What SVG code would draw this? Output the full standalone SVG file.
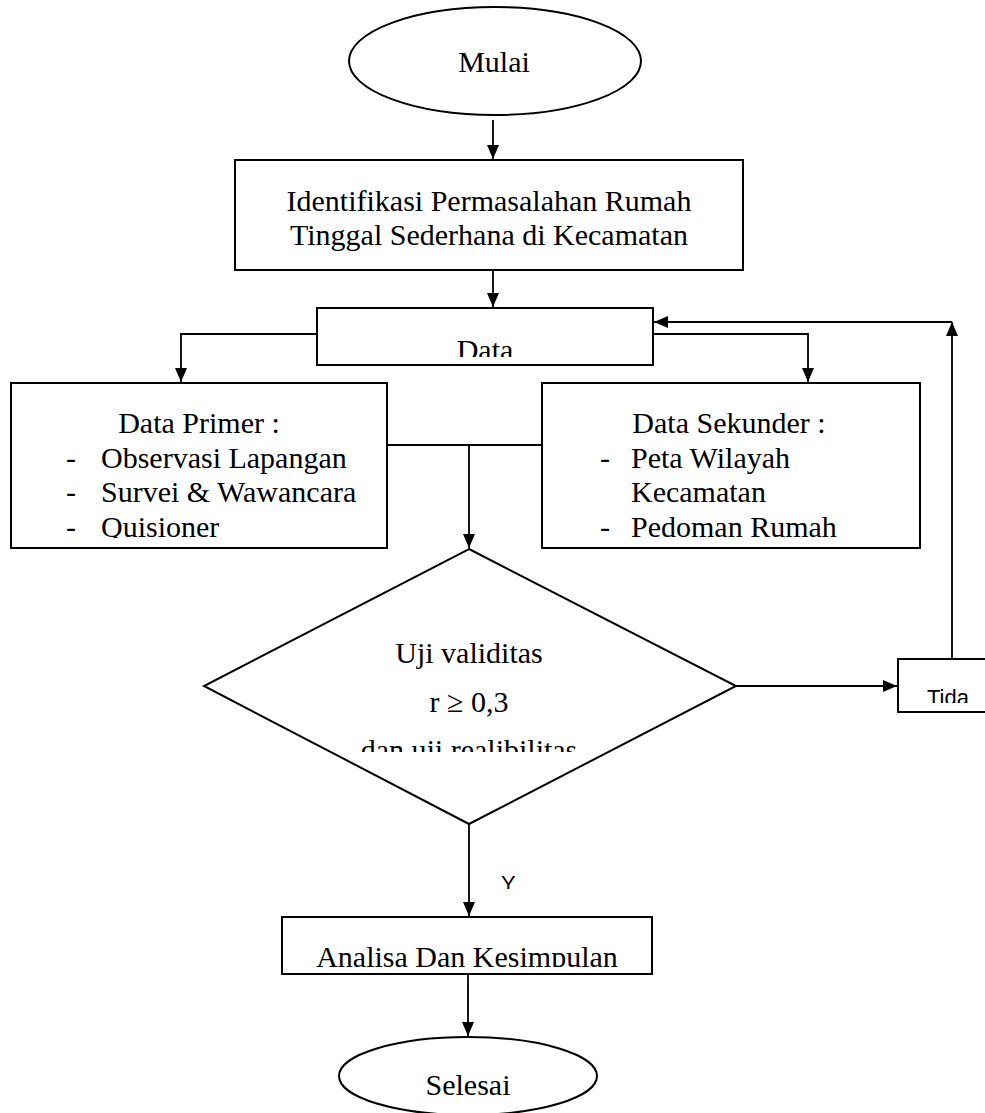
<svg xmlns="http://www.w3.org/2000/svg" width="985" height="1113" viewBox="0 0 985 1113">
<style>
.shape{fill:#fff;stroke:#000;stroke-width:2}
.conn{fill:none;stroke:#000;stroke-width:1.8}
.t{font-family:"Liberation Serif","Times New Roman",serif;font-size:30px;fill:#000}
.c{text-anchor:middle}
.s{font-family:"Liberation Sans",Arial,sans-serif;font-size:22px;fill:#000}
</style>
<defs>
<marker id="ah" viewBox="0 0 14 12" refX="14" refY="6" markerWidth="14" markerHeight="12" markerUnits="userSpaceOnUse" orient="auto">
<path d="M0,0 L14,6 L0,12 z" fill="#000"/>
</marker>
<clipPath id="cpData"><rect x="318" y="309" width="334" height="48"/></clipPath>
<clipPath id="cpLeft"><rect x="12" y="384" width="374" height="154"/></clipPath>
<clipPath id="cpRight"><rect x="543" y="384" width="376" height="154"/></clipPath>
<clipPath id="cpDia"><rect x="200" y="549" width="540" height="203"/></clipPath>
<clipPath id="cpTida"><rect x="899" y="660" width="90" height="43"/></clipPath>
<clipPath id="cpY"><rect x="490" y="860" width="40" height="29"/></clipPath>
<clipPath id="cpAn"><rect x="283" y="918" width="368" height="49"/></clipPath>
</defs>

<g id="connectors">
<line class="conn" x1="493" y1="120" x2="493" y2="159" marker-end="url(#ah)"/>
<line class="conn" x1="493" y1="270" x2="493" y2="307" marker-end="url(#ah)"/>
<polyline class="conn" points="317,334 181,334 181,382" marker-end="url(#ah)"/>
<polyline class="conn" points="653,334 808,334 808,382" marker-end="url(#ah)"/>
<line class="conn" x1="387" y1="445" x2="542" y2="445"/>
<line class="conn" x1="469" y1="445" x2="469" y2="548" marker-end="url(#ah)"/>
<line class="conn" x1="736" y1="686" x2="897" y2="686" marker-end="url(#ah)"/>
<line class="conn" x1="952" y1="659" x2="952" y2="322" marker-end="url(#ah)"/>
<line class="conn" x1="952" y1="322" x2="654" y2="322" marker-end="url(#ah)"/>
<line class="conn" x1="469" y1="824" x2="469" y2="916" marker-end="url(#ah)"/>
<line class="conn" x1="468" y1="974" x2="468" y2="1036" marker-end="url(#ah)"/>
</g>

<g id="mulai">
<ellipse class="shape" cx="495" cy="61" rx="146" ry="54"/>
<text class="t c" x="494" y="72" font-size="29">Mulai</text>
</g>

<g id="identifikasi">
<rect class="shape" x="235" y="160" width="508" height="110"/>
<text class="t c" x="489" y="211">Identifikasi Permasalahan Rumah</text>
<text class="t c" x="489" y="245">Tinggal Sederhana di Kecamatan</text>
</g>

<g id="data">
<rect class="shape" x="317" y="308" width="336" height="57"/>
<text class="t c" x="485" y="360" clip-path="url(#cpData)">Data</text>
</g>

<g id="data-primer">
<rect class="shape" x="11" y="383" width="376" height="165"/>
<g clip-path="url(#cpLeft)">
<text class="t c" x="199" y="433">Data Primer :</text>
<text class="t" x="66" y="468">-</text><text class="t" x="101" y="468">Observasi Lapangan</text>
<text class="t" x="66" y="502">-</text><text class="t" x="101" y="502">Survei &amp; Wawancara</text>
<text class="t" x="66" y="537">-</text><text class="t" x="101" y="537">Quisioner</text>
</g>
</g>

<g id="data-sekunder">
<rect class="shape" x="542" y="383" width="378" height="165"/>
<g clip-path="url(#cpRight)">
<text class="t c" x="729" y="433">Data Sekunder :</text>
<text class="t" x="600" y="468">-</text><text class="t" x="631" y="468">Peta Wilayah</text>
<text class="t" x="631" y="502">Kecamatan</text>
<text class="t" x="600" y="537">-</text><text class="t" x="631" y="537">Pedoman Rumah</text>
</g>
</g>

<g id="uji">
<polygon class="shape" points="469,549 736,686 469,824 204,686"/>
<text class="t c" x="469" y="663">Uji validitas</text>
<text class="t c" x="469" y="712">r ≥ 0,3</text>
<text class="t c" x="469" y="760" clip-path="url(#cpDia)">dan uji realibilitas</text>
</g>

<g id="tida">
<rect class="shape" x="898" y="659" width="100" height="53"/>
<text class="s" x="927" y="705" clip-path="url(#cpTida)">Tida</text>
</g>

<g id="label-y">
<text class="s" x="501" y="891" clip-path="url(#cpY)">Y</text>
</g>

<g id="analisa">
<rect class="shape" x="282" y="917" width="370" height="57"/>
<text class="t c" x="467" y="967" clip-path="url(#cpAn)">Analisa Dan Kesimpulan</text>
</g>

<g id="selesai">
<ellipse class="shape" cx="468" cy="1076" rx="129" ry="39"/>
<text class="t c" x="468" y="1095">Selesai</text>
</g>
</svg>
